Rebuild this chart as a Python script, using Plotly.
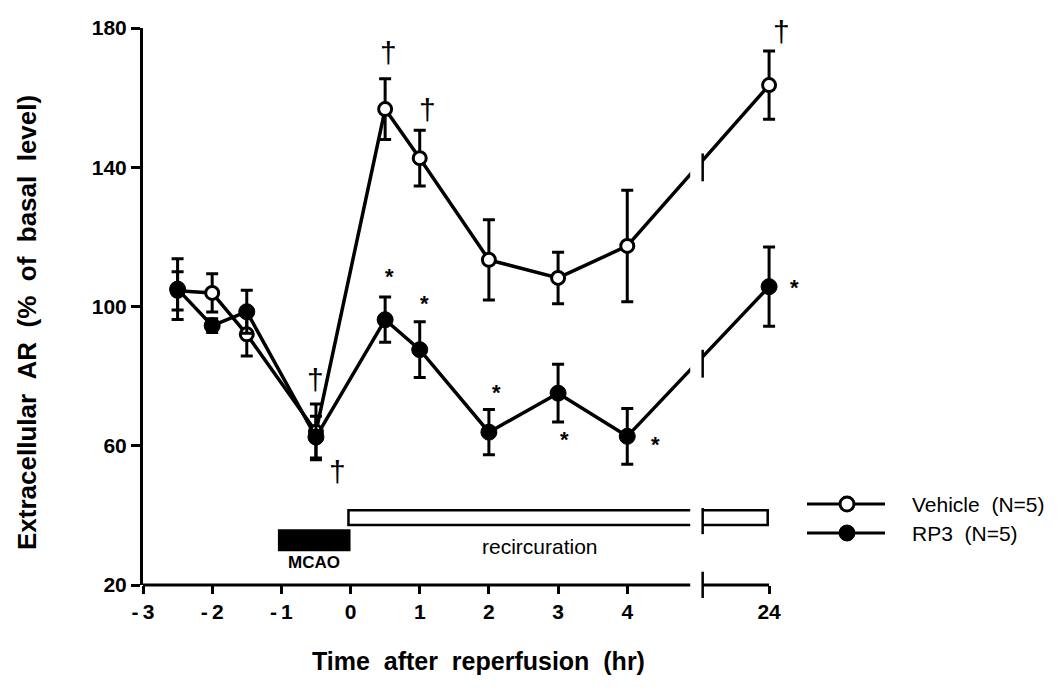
import numpy as np
import plotly.graph_objects as go

# ---- data: extracellular AR (% of basal level), mean and SEM ----
HOURS = [-2.5, -2, -1.5, -0.5, 0.5, 1, 2, 3, 4, 24]
VEHICLE = [104.5, 103.9, 92.0, 64.0, 156.7, 142.6, 113.4, 108.2, 117.4, 163.6]
VEHICLE_SEM = [5.5, 5.5, 6.2, 8.0, 8.7, 8.0, 11.5, 7.4, 16.0, 9.8]
RP3 = [105.0, 94.5, 98.5, 62.5, 96.2, 87.6, 63.9, 75.1, 62.7, 105.7]
RP3_SEM = [8.7, 2.0, 6.2, 6.0, 6.5, 8.0, 6.5, 8.3, 8.0, 11.4]

X_TICKS = [-3, -2, -1, 0, 1, 2, 3, 4, 24]
X_TICK_TEXT = ["-\u20093", "-\u20092", "-\u20091", "0", "1", "2", "3", "4", "24"]
Y_TICKS = [20, 60, 100, 140, 180]

MCAO_HOURS = (-1, 0)
RECIRC_HOURS = (0, 24)

# significance marks
VEHICLE_DAGGERS = [-0.5, 0.5, 1, 24]
RP3_DAGGERS = [-0.5]
RP3_STARS = [0.5, 1, 2, 3, 4, 24]

# ---- broken time axis: 4.9 h ... 23 h is cut out ----
GAP = (4.91, 5.09)
LATE_SHIFT = 17.95


def to_axis(h):
    return h if h <= GAP[0] else h - LATE_SHIFT


xs = [to_axis(h) for h in HOURS]
X_START = -3
X_END = to_axis(24)
X_PAD = 0.1  # room for the error-bar caps at 24 h

# figure geometry (px)
W, H = 1061, 691
M_L, M_T, M_B = 143, 28, 106
M_R = 285
PLOT_W = W - M_L - M_R
PLOT_H = H - M_T - M_B


def px_x(px):
    return (px - M_L) / PLOT_W


def px_y(py):
    return (H - M_B - py) / PLOT_H


FONT = "Liberation Sans, Arial, Helvetica, sans-serif"
BLACK = "#000000"

fig = go.Figure()

fig.add_trace(go.Scatter(
    x=xs, y=VEHICLE, name="Vehicle  (N=5)", mode="lines+markers", cliponaxis=False,
    line=dict(color=BLACK, width=3.5),
    marker=dict(symbol="circle", size=13, color="white", line=dict(color=BLACK, width=3)),
    error_y=dict(type="data", array=VEHICLE_SEM, color=BLACK, thickness=3, width=6),
    showlegend=False,
))
fig.add_trace(go.Scatter(
    x=xs, y=RP3, name="RP3  (N=5)", mode="lines+markers", cliponaxis=False,
    line=dict(color=BLACK, width=3.5),
    marker=dict(symbol="circle", size=16, color=BLACK, line=dict(color=BLACK, width=1)),
    error_y=dict(type="data", array=RP3_SEM, color=BLACK, thickness=3, width=6),
    showlegend=False,
))

shapes = []
# broken x-axis line: two segments
for a, b in ((X_START, GAP[0]), (GAP[1], X_END)):
    shapes.append(dict(type="line", xref="x", yref="paper", layer="above",
                       x0=a, x1=b, y0=0, y1=0, line=dict(color=BLACK, width=3)))
# MCAO period (solid bar) and recirculation period (open bar)
shapes.append(dict(type="rect", xref="x", yref="y", layer="below",
                   x0=to_axis(MCAO_HOURS[0]) - 0.05, x1=to_axis(MCAO_HOURS[1]),
                   y0=29.7, y1=36.0, fillcolor=BLACK, line=dict(width=0)))
shapes.append(dict(type="rect", xref="x", yref="y", layer="below",
                   x0=to_axis(RECIRC_HOURS[0]) - 0.03, x1=to_axis(RECIRC_HOURS[1]) - 0.02,
                   y0=37.2, y1=41.5, fillcolor="white", line=dict(color=BLACK, width=2.5)))
# white band that cuts the bar and both curves at the break
shapes.append(dict(type="rect", xref="x", yref="paper", layer="above",
                   x0=GAP[0], x1=GAP[1] - 0.005, y0=0.01, y1=1.0,
                   fillcolor="white", line=dict(width=0)))
# break marks
brk_style = dict(color=BLACK, width=2.5)
shapes.append(dict(type="line", xref="x", yref="paper", layer="above",
                   x0=GAP[1], x1=GAP[1], y0=px_y(598), y1=px_y(571.7), line=brk_style))
shapes.append(dict(type="line", xref="x", yref="y", layer="above",
                   x0=GAP[1], x1=GAP[1], y0=34.6, y1=42.1, line=brk_style))
for series in (VEHICLE, RP3):
    y_at_break = float(np.interp(GAP[1], [xs[-2], xs[-1]], [series[-2], series[-1]]))
    shapes.append(dict(type="line", xref="x", yref="y", layer="above",
                       x0=GAP[1], x1=GAP[1], y0=y_at_break - 6.0, y1=y_at_break + 2.0,
                       line=brk_style))

# legend keys drawn beside the plot
LEG_X0, LEG_X1, LEG_XM, LEG_TX = px_x(807), px_x(885), px_x(847), px_x(910)
LEG_Y = [px_y(504), px_y(533)]
for ly in LEG_Y:
    shapes.append(dict(type="line", xref="paper", yref="paper", layer="above",
                       x0=LEG_X0, x1=LEG_X1, y0=ly, y1=ly, line=dict(color=BLACK, width=3)))
shapes.append(dict(type="circle", xref="paper", yref="paper", layer="above",
                   xsizemode="pixel", ysizemode="pixel", xanchor=LEG_XM, yanchor=LEG_Y[0],
                   x0=-7, x1=7, y0=-7, y1=7, fillcolor="white", line=dict(color=BLACK, width=3)))
shapes.append(dict(type="circle", xref="paper", yref="paper", layer="above",
                   xsizemode="pixel", ysizemode="pixel", xanchor=LEG_XM, yanchor=LEG_Y[1],
                   x0=-8, x1=8, y0=-8, y1=8, fillcolor=BLACK, line=dict(color=BLACK, width=1)))

annotations = []
legend_text = ["Vehicle\u00a0\u00a0(N=5)", "RP3\u00a0\u00a0(N=5)"]
for ly, txt in zip(LEG_Y, legend_text):
    annotations.append(dict(xref="paper", yref="paper", x=LEG_TX, y=ly, text=txt,
                            showarrow=False, xanchor="left", yanchor="middle",
                            font=dict(family=FONT, size=21, color=BLACK)))

# period labels
annotations.append(dict(xref="x", yref="y", x=-0.532, y=26.6, text="MCAO", showarrow=False,
                        xanchor="center", yanchor="middle",
                        font=dict(family=FONT, size=17, color=BLACK, weight="bold")))
annotations.append(dict(xref="x", yref="y", x=2.735, y=31.2, text="recircuration", showarrow=False,
                        xanchor="center", yanchor="middle",
                        font=dict(family=FONT, size=21, color=BLACK)))

# significance symbols, placed relative to the data point they refer to
value_at = lambda series, h: series[HOURS.index(h)]
dagger_offsets = {
    ("v", -0.5): (0, 52), ("v", 0.5): (3, 57), ("v", 1): (8, 49), ("v", 24): (12, 54),
    ("r", -0.5): (22, -34),
}
star_offsets = {0.5: (4, 43), 1: (5, 46), 2: (8, 40), 3: (6, -46), 4: (28, -8), 24: (25, -1)}


def mark(x, y, dx, dy, text, size, weight="normal"):
    return dict(xref="x", yref="y", x=x, y=y, xshift=dx, yshift=dy, text=text,
                showarrow=False, xanchor="center", yanchor="middle",
                font=dict(family=FONT, size=size, color=BLACK, weight=weight))


for h in VEHICLE_DAGGERS:
    dx, dy = dagger_offsets[("v", h)]
    annotations.append(mark(to_axis(h), value_at(VEHICLE, h), dx, dy, "\u2020", 30))
for h in RP3_DAGGERS:
    dx, dy = dagger_offsets[("r", h)]
    annotations.append(mark(to_axis(h), value_at(RP3, h), dx, dy, "\u2020", 30))
for h in RP3_STARS:
    dx, dy = star_offsets[h]
    annotations.append(mark(to_axis(h), value_at(RP3, h), dx, dy, "*", 22, "bold"))

# axis titles
annotations.append(dict(xref="paper", yref="paper", x=px_x(478), y=px_y(661),
                        xanchor="center", yanchor="middle",
                        text="Time\u00a0\u00a0after\u00a0\u00a0reperfusion\u00a0\u00a0(hr)",
                        showarrow=False, font=dict(family=FONT, size=25, color=BLACK, weight="bold")))
annotations.append(dict(xref="paper", yref="paper", x=px_x(27), y=px_y(323), textangle=-90,
                        xanchor="center", yanchor="middle",
                        text="Extracellular\u00a0\u00a0AR\u00a0\u00a0(%\u00a0\u00a0of\u00a0\u00a0basal\u00a0\u00a0level)",
                        showarrow=False, font=dict(family=FONT, size=26, color=BLACK, weight="bold")))

fig.update_layout(
    width=W, height=H,
    margin=dict(l=M_L, r=M_R, t=M_T, b=M_B),
    paper_bgcolor="white", plot_bgcolor="white",
    showlegend=False,
    shapes=shapes, annotations=annotations,
    xaxis=dict(range=[X_START, X_END + X_PAD], tickvals=[to_axis(t) for t in X_TICKS],
               ticktext=X_TICK_TEXT, showline=False,
               ticks="outside", ticklen=8, tickwidth=3, tickcolor=BLACK,
               showgrid=False, zeroline=False,
               tickfont=dict(family=FONT, size=21, color=BLACK, weight="bold")),
    yaxis=dict(range=[20, 180], tickvals=Y_TICKS,
               showline=True, linecolor=BLACK, linewidth=3,
               ticks="outside", ticklen=9, tickwidth=3, tickcolor=BLACK,
               showgrid=False, zeroline=False,
               tickfont=dict(family=FONT, size=21, color=BLACK, weight="bold")),
)

fig.write_html("out.html")
